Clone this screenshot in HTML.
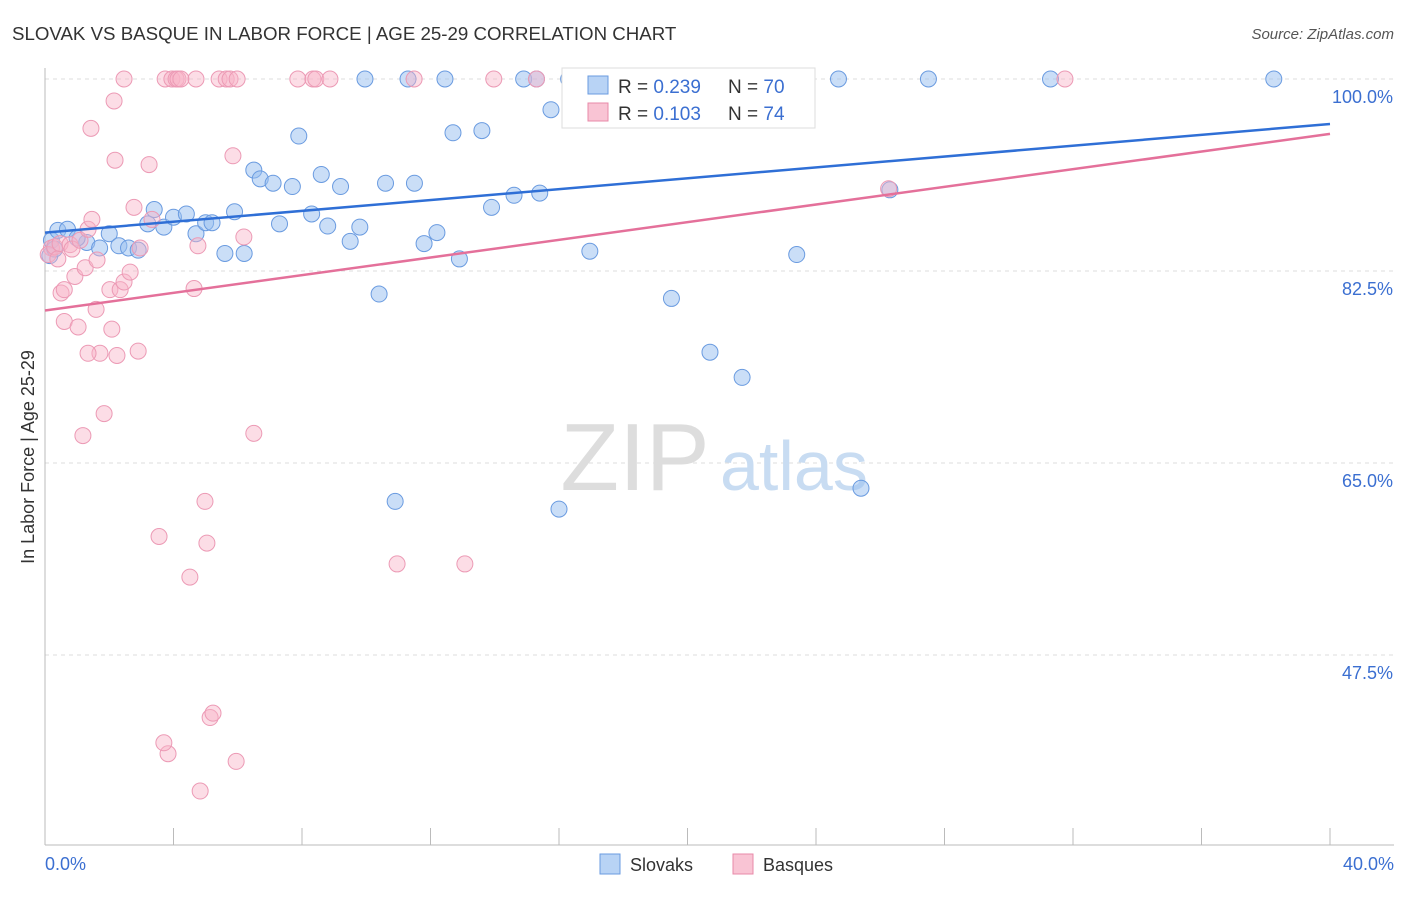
<!DOCTYPE html>
<html><head><meta charset="utf-8"><style>
body{margin:0;background:#fff;font-family:"Liberation Sans",sans-serif;}
svg text{font-family:"Liberation Sans",sans-serif;}
</style></head><body>
<svg id="chart" width="1406" height="892">
<text x="12" y="40" font-size="18.7" fill="#333">SLOVAK VS BASQUE IN LABOR FORCE | AGE 25-29 CORRELATION CHART</text>
<text x="1394" y="39" font-size="15" fill="#555" text-anchor="end" font-style="italic">Source: ZipAtlas.com</text>
<g id="grid"></g>
<text x="635" y="490" font-size="96" fill="#dddddd" font-family="Liberation Serif" text-anchor="middle">ZIP</text>
<text x="720" y="490" font-size="70" fill="#c8dcf2">atlas</text>
<g id="points"></g>
<g id="lines"></g>
<text x="34" y="457" font-size="18" fill="#333" text-anchor="middle" transform="rotate(-90 34 457)">In Labor Force | Age 25-29</text>
<text x="45" y="870" font-size="18" fill="#3b6fd1">0.0%</text>
<text x="1394" y="870" font-size="18" fill="#3b6fd1" text-anchor="end">40.0%</text>
<g>
<rect x="562" y="68" width="253" height="60" fill="#fff" stroke="#ddd"/>
<rect x="588" y="76" width="20" height="18" fill="#b8d3f5" stroke="#6a9be0"/>
<rect x="588" y="103" width="20" height="18" fill="#f9c4d4" stroke="#e88aa8"/>
<text x="618" y="93" font-size="19" fill="#333">R = <tspan fill="#3b6fd1">0.239</tspan></text>
<text x="728" y="93" font-size="19" fill="#333">N = <tspan fill="#3b6fd1">70</tspan></text>
<text x="618" y="120" font-size="19" fill="#333">R = <tspan fill="#3b6fd1">0.103</tspan></text>
<text x="728" y="120" font-size="19" fill="#333">N = <tspan fill="#3b6fd1">74</tspan></text>
</g>
<g>
<rect x="600" y="854" width="20" height="20" fill="#b8d3f5" stroke="#6a9be0"/>
<text x="630" y="871" font-size="18" fill="#333">Slovaks</text>
<rect x="733" y="854" width="20" height="20" fill="#f9c4d4" stroke="#e88aa8"/>
<text x="763" y="871" font-size="18" fill="#333">Basques</text>
</g>
</svg>
<script>
const yTicks=[100,82.5,65,47.5];
const xTicks=[0,4,8,12,16,20,24,28,32,36,40];
const blueX=[0.2,0.4,0.7,1.3,1.0,1.7,2.0,2.3,2.6,2.9,3.2,3.4,3.7,4.0,4.4,4.7,5.0,5.2,5.6,5.9,6.2,6.5,6.7,7.1,7.7,7.3,7.9,8.3,8.6,8.8,9.2,9.5,9.8,9.96,10.4,10.6,10.9,11.3,11.5,11.8,12.2,12.45,12.7,12.9,13.6,13.9,14.6,14.9,15.3,15.4,15.75,16.0,16.3,16.96,19.5,20.7,21.3,21.7,23.4,23.6,24.7,25.4,26.3,27.5,31.3,38.25,0.15,0.3];
const blueY=[85.3,86.2,86.3,85.1,85.5,84.6,85.9,84.8,84.6,84.4,86.8,88.1,86.5,87.4,87.7,85.9,86.9,86.9,84.1,87.9,84.1,91.7,90.9,90.5,90.2,86.8,94.8,87.7,91.3,86.6,90.2,85.2,86.5,100,80.4,90.5,61.5,100,90.5,85.0,86.0,100,95.1,83.6,95.3,88.3,89.4,100,100,89.6,97.2,60.8,100,84.3,80.0,75.1,100,72.8,84.0,100,100,62.7,89.9,100,100,100,83.9,84.5];
const pinkX=[0.2,0.1,0.3,0.4,0.47,0.5,0.6,0.6,0.78,0.84,0.93,1.03,1.09,1.18,1.25,1.34,1.46,1.43,1.59,1.62,1.71,1.84,1.34,2.02,2.08,2.15,2.18,2.24,2.34,2.46,2.46,2.65,2.77,2.9,2.96,3.24,3.33,3.55,3.74,3.83,3.95,4.08,4.14,4.23,3.7,4.51,4.64,4.7,4.76,4.83,4.98,5.04,5.14,5.23,5.42,5.64,5.76,5.85,5.98,5.95,6.19,6.5,7.87,8.34,8.43,8.87,10.96,11.49,13.07,13.97,15.3,16.64,26.26,31.75];
const pinkY=[84.6,84.0,84.7,83.6,85.0,80.5,80.8,77.9,84.9,84.5,82.0,77.4,85.3,67.5,82.8,86.3,87.2,95.5,79.0,83.5,75.0,69.5,75.0,80.8,77.2,98.0,92.6,74.8,80.8,81.5,100,82.4,88.3,75.2,84.6,92.2,87.2,58.3,100,38.5,100,100,100,100,39.5,54.6,80.9,100,84.8,35.1,61.5,57.7,41.8,42.2,100,100,100,93.0,100,37.8,85.6,67.7,100,100,100,100,55.8,100,55.8,100,100,100,90.0,100];
const blueLine=[86.0,95.9];
const pinkLine=[78.9,95.0];
const NS="http://www.w3.org/2000/svg";
const sx=v=>45+v/40*1285;
const sy=v=>79+(100-v)*192/17.5;
function mk(tag,attrs,parent){const e=document.createElementNS(NS,tag);for(const k in attrs)e.setAttribute(k,attrs[k]);parent.appendChild(e);return e;}
const grid=document.getElementById('grid'),pts=document.getElementById('points'),lines=document.getElementById('lines');
yTicks.forEach(t=>{
 const l=mk('line',{x1:45,x2:1394,y1:sy(t),y2:sy(t),stroke:'#ddd','stroke-dasharray':'4,4'},grid);
 
 
 const tx=mk('text',{x:1393,y:sy(t)+24,'font-size':18,fill:'#3b6fd1','text-anchor':'end'},grid);
 tx.textContent=t.toFixed(1)+'%';
 
 
});
mk('line',{x1:45,x2:45,y1:68,y2:845,stroke:'#bbb'},grid);
mk('line',{x1:45,x2:1394,y1:845,y2:845,stroke:'#bbb'},grid);
xTicks.forEach(t=>{
 const l=mk('line',{x1:sx(t),x2:sx(t),y1:828,y2:845,stroke:'#bbb'},grid);
 
 
});
blueX.forEach((x,i)=>{
 const c=mk('circle',{cx:sx(x),cy:sy(blueY[i]),r:8,fill:'rgba(150,190,240,0.5)',stroke:'#6a9be0','stroke-width':1},pts);
 
 
});
pinkX.forEach((x,i)=>{
 const c=mk('circle',{cx:sx(x),cy:sy(pinkY[i]),r:8,fill:'rgba(248,180,200,0.45)',stroke:'#ec9ab5','stroke-width':1},pts);
 
 
});
const bl=mk('line',{x1:sx(0),y1:sy(blueLine[0]),x2:sx(40),y2:sy(blueLine[1]),stroke:'#2f6fd6','stroke-width':2.5},lines);


const pl=mk('line',{x1:sx(0),y1:sy(pinkLine[0]),x2:sx(40),y2:sy(pinkLine[1]),stroke:'#e4709a','stroke-width':2.5},lines);


</script>
</body></html>
